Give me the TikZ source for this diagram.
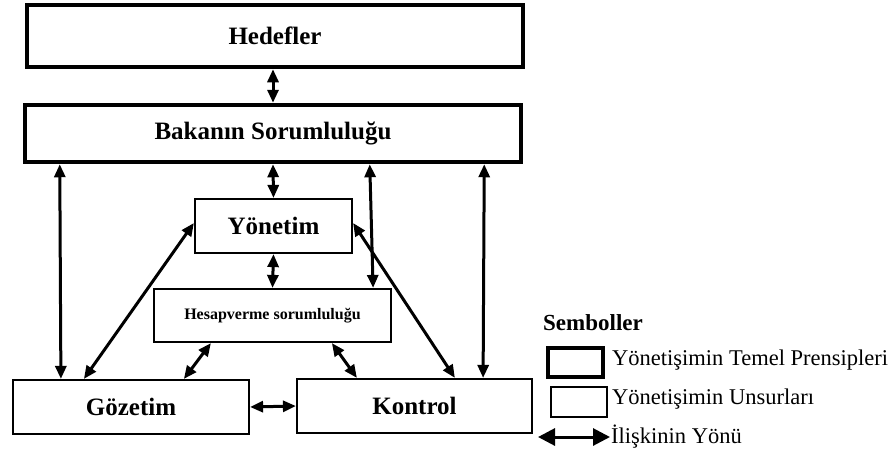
\documentclass[tikz,border=0pt]{standalone}
\usepackage{fontspec}
\setmainfont{Liberation Serif}
\usetikzlibrary{arrows.meta}
\tikzset{
  principle/.style={draw, line width=4.5pt, inner sep=0pt, font=\fontsize{25}{29}\selectfont\bfseries},
  element/.style={draw, line width=2.2pt, inner sep=0pt, font=\fontsize{25}{29}\selectfont\bfseries},
  rel/.style={line width=3pt, {Triangle[length=13pt,width=11pt]}-{Triangle[length=13pt,width=11pt]}},
  legtext/.style={anchor=base west, inner sep=0pt, font=\fontsize{22.5}{27}\selectfont}
}
\begin{document}
\begin{tikzpicture}[x=1pt, y=-1pt]
\useasboundingbox (0,0) rectangle (893,450);

% principle boxes (thick frame)
\node[principle, minimum width=496pt, minimum height=62pt] (hed) at (275,36) {Hedefler};
\node[principle, minimum width=496pt, minimum height=57pt] (bak) at (273,133.5) {Bakanın Sorumluluğu};

% element boxes (thin frame)
\node[element, minimum width=157pt, minimum height=54pt] (yon) at (273.5,226) {Yönetim};
\node[element, minimum width=237pt, minimum height=53pt, font=\fontsize{16}{19}\selectfont\bfseries] (hes) at (272.5,315.5) {Hesapverme sorumluluğu};
\node[element, minimum width=236pt, minimum height=54pt] (goz) at (131,407) {Gözetim};
\node[element, minimum width=235pt, minimum height=54pt] (kon) at (414.5,406) {Kontrol};

% relations
\draw[rel] ([xshift=-2pt]hed.south) -- (bak.north);
\draw[rel] (bak.south) -- (yon.north);
\draw[rel] ([xshift=37pt]bak.south west) -- ([xshift=49pt]goz.north west);
\draw[rel] ([xshift=347pt]bak.south west) -- ([xshift=-19pt]hes.north east);
\draw[rel] ([xshift=-39pt]bak.south east) -- ([xshift=-50pt]kon.north east);
\draw[rel] ([yshift=3pt]yon.west) -- ([xshift=72pt]goz.north west);
\draw[rel] ([yshift=3pt]yon.east) -- ([xshift=159pt]kon.north west);
\draw[rel] (yon.south) -- (hes.north);
\draw[rel] ([xshift=58pt]hes.south west) -- ([xshift=172pt]goz.north west);
\draw[rel] ([xshift=179pt]hes.south west) -- ([xshift=61pt]kon.north west);
\draw[rel] (goz.east) -- (kon.west);

% legend
\node[anchor=base west, inner sep=0pt, font=\fontsize{23}{27}\selectfont\bfseries] (sem) at (543,330) {Semboller};
\node[draw, line width=4.5pt, minimum width=55pt, minimum height=29pt, inner sep=0pt] (lgp) at (575.5,362.5) {};
\node[draw, line width=2.4pt, minimum width=56pt, minimum height=30pt, inner sep=0pt] (lge) at (579,402) {};
\node[legtext] (tp) at (612,365) {Yönetişimin Temel Prensipleri};
\node[legtext] (te) at (612,404) {Yönetişimin Unsurları};
\coordinate (la) at (538,437);
\coordinate (lb) at (610,437);
\draw[line width=3pt, {Triangle[length=17pt,width=17pt]}-{Triangle[length=17pt,width=17pt]}] (la) -- (lb);
\node[legtext] (ty) at (611,443) {İlişkinin Yönü};
\end{tikzpicture}
\end{document}
